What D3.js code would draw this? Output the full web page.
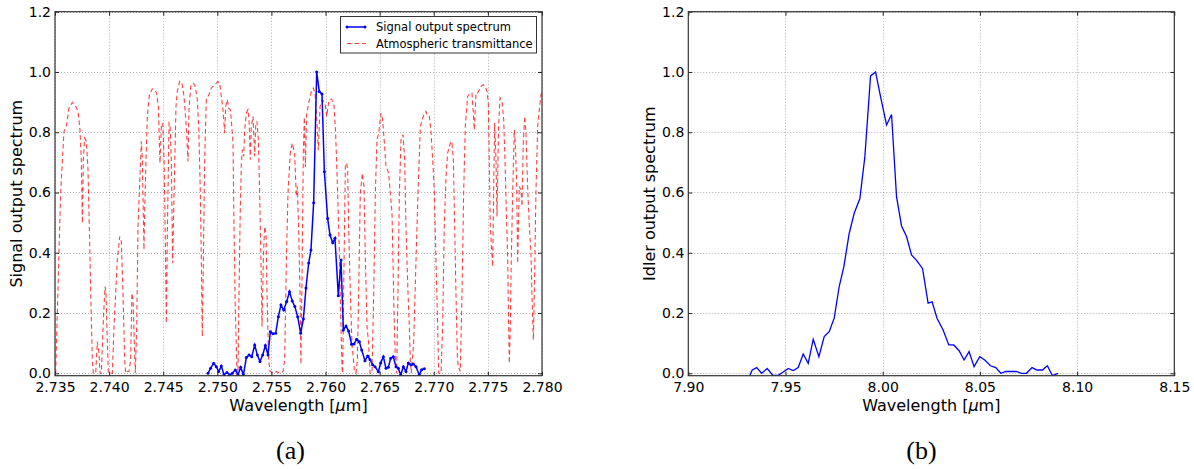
<!DOCTYPE html>
<html>
<head>
<meta charset="utf-8">
<script src="https://cdn.jsdelivr.net/npm/d3@7"></script>
<style>
  body { margin: 0; background: #fff; }
  svg { display: block; }
  text { font-family: "DejaVu Sans", sans-serif; fill: #000; }
  text.caption { font-family: "Liberation Serif", "DejaVu Serif", serif; }
</style>
</head>
<body>
<svg id="fig" width="1194" height="469"></svg>
<script>
// ---- (a) signal output spectrum, measured points ----
const signalWavelength = [
  2.74914, 2.74938, 2.74966, 2.74991, 2.75012, 2.75037, 2.75061, 2.75089, 2.75114, 2.75138,
  2.75166, 2.75191, 2.75216, 2.75241, 2.75268, 2.75293, 2.75318, 2.75345, 2.75370, 2.75394,
  2.75419, 2.75444, 2.75468, 2.75490, 2.75514, 2.75539, 2.75564, 2.75588, 2.75613, 2.75641,
  2.75667, 2.75692, 2.75716, 2.75742, 2.75770, 2.75795, 2.75819, 2.75844, 2.75865, 2.75890,
  2.75918, 2.75942, 2.75967, 2.75989, 2.76019, 2.76041, 2.76066, 2.76087, 2.76118, 2.76143,
  2.76164, 2.76189, 2.76213, 2.76241, 2.76263, 2.76287, 2.76312, 2.76334, 2.76364, 2.76389,
  2.76411, 2.76435, 2.76457, 2.76488, 2.76509, 2.76534, 2.76558, 2.76580, 2.76602, 2.76626,
  2.76651, 2.76672, 2.76694, 2.76719, 2.76743, 2.76765, 2.76789, 2.76811, 2.76836, 2.76866,
  2.76888, 2.76913
];
const signalOutput = [
  0.000, 0.017, 0.033, 0.022, 0.006, 0.024, -0.005, 0.003, -0.006, 0.000,
  0.011, -0.005, 0.020, -0.005, 0.052, 0.061, 0.055, 0.094, 0.061, 0.039,
  0.061, 0.092, 0.061, 0.138, 0.131, 0.133, 0.188, 0.227, 0.210, 0.238,
  0.271, 0.240, 0.222, 0.188, 0.133, 0.180, 0.283, 0.366, 0.409, 0.566,
  1.000, 0.935, 0.927, 0.669, 0.514, 0.459, 0.433, 0.448, 0.257, 0.376,
  0.144, 0.157, 0.140, 0.096, 0.097, 0.113, 0.105, 0.077, 0.042, 0.057,
  0.045, 0.028, 0.022, 0.005, 0.034, 0.055, 0.017, 0.020, 0.050, 0.055,
  0.022, 0.017, -0.006, 0.022, 0.006, 0.034, 0.028, 0.031, 0.022, -0.006,
  0.012, 0.015
];

// ---- (a) atmospheric transmittance ----
const atmWavelength = [
  2.73506, 2.73552, 2.73583, 2.73605, 2.73629, 2.73660, 2.73691, 2.73713, 2.73731, 2.73743,
  2.73753, 2.73762, 2.73774, 2.73790, 2.73805, 2.73817, 2.73830, 2.73845, 2.73854, 2.73876,
  2.73891, 2.73907, 2.73916, 2.73928, 2.73947, 2.73962, 2.73971, 2.73984, 2.73993, 2.74030,
  2.74045, 2.74076, 2.74098, 2.74113, 2.74128, 2.74144, 2.74153, 2.74168, 2.74184, 2.74199,
  2.74211, 2.74221, 2.74233, 2.74242, 2.74255, 2.74267, 2.74279, 2.74298, 2.74307, 2.74322,
  2.74329, 2.74341, 2.74353, 2.74372, 2.74399, 2.74421, 2.74439, 2.74455, 2.74470, 2.74483,
  2.74495, 2.74508, 2.74520, 2.74529, 2.74539, 2.74554, 2.74563, 2.74575, 2.74587, 2.74600,
  2.74618, 2.74630, 2.74652, 2.74673, 2.74692, 2.74713, 2.74729, 2.74738, 2.74754, 2.74772,
  2.74791, 2.74806, 2.74815, 2.74828, 2.74843, 2.74852, 2.74861, 2.74871, 2.74883, 2.74898,
  2.74914, 2.74929, 2.74945, 2.74960, 2.74975, 2.74991, 2.75006, 2.75022, 2.75037, 2.75052,
  2.75068, 2.75077, 2.75092, 2.75105, 2.75120, 2.75129, 2.75145, 2.75154, 2.75166, 2.75182,
  2.75191, 2.75200, 2.75212, 2.75222, 2.75231, 2.75243, 2.75253, 2.75268, 2.75283, 2.75293,
  2.75305, 2.75314, 2.75330, 2.75339, 2.75345, 2.75354, 2.75366, 2.75379, 2.75391, 2.75403,
  2.75413, 2.75425, 2.75437, 2.75450, 2.75459, 2.75474, 2.75487, 2.75514, 2.75545, 2.75576,
  2.75607, 2.75622, 2.75638, 2.75653, 2.75674, 2.75693, 2.75714, 2.75730, 2.75739, 2.75751,
  2.75764, 2.75772, 2.75782, 2.75795, 2.75804, 2.75813, 2.75825, 2.75850, 2.75872, 2.75887,
  2.75902, 2.75918, 2.75933, 2.75949, 2.75970, 2.75995, 2.76010, 2.76032, 2.76056, 2.76078,
  2.76093, 2.76109, 2.76127, 2.76140, 2.76152, 2.76158, 2.76167, 2.76183, 2.76195, 2.76204,
  2.76213, 2.76229, 2.76244, 2.76266, 2.76281, 2.76294, 2.76306, 2.76321, 2.76340, 2.76355,
  2.76368, 2.76383, 2.76398, 2.76411, 2.76429, 2.76445, 2.76460, 2.76475, 2.76491, 2.76512,
  2.76527, 2.76546, 2.76558, 2.76571, 2.76583, 2.76598, 2.76614, 2.76623, 2.76632, 2.76645,
  2.76657, 2.76669, 2.76682, 2.76697, 2.76716, 2.76731, 2.76743, 2.76762, 2.76774, 2.76783,
  2.76792, 2.76814, 2.76836, 2.76854, 2.76876, 2.76897, 2.76916, 2.76928, 2.76943, 2.76959,
  2.76974, 2.76990, 2.77005, 2.77020, 2.77036, 2.77045, 2.77067, 2.77082, 2.77097, 2.77113,
  2.77128, 2.77144, 2.77159, 2.77168, 2.77181, 2.77193, 2.77205, 2.77218, 2.77227, 2.77245,
  2.77261, 2.77276, 2.77291, 2.77313, 2.77335, 2.77353, 2.77365, 2.77375, 2.77390, 2.77405,
  2.77421, 2.77436, 2.77458, 2.77476, 2.77492, 2.77504, 2.77513, 2.77522, 2.77544, 2.77553,
  2.77562, 2.77575, 2.77584, 2.77599, 2.77612, 2.77630, 2.77646, 2.77658, 2.77670, 2.77683,
  2.77692, 2.77698, 2.77707, 2.77716, 2.77729, 2.77744, 2.77753, 2.77766, 2.77775, 2.77790,
  2.77806, 2.77815, 2.77827, 2.77840, 2.77852, 2.77867, 2.77883, 2.77898, 2.77907, 2.77920,
  2.77929, 2.77944, 2.77960, 2.77975, 2.77991, 2.78000
];
const atmTransmittance = [
  0.000, 0.598, 0.803, 0.819, 0.880, 0.899, 0.886, 0.869, 0.808, 0.709,
  0.498, 0.709, 0.781, 0.770, 0.676, 0.487, 0.266, 0.044, 0.000, 0.000,
  0.105, 0.066, 0.000, 0.000, 0.177, 0.288, 0.266, 0.100, 0.000, 0.000,
  0.155, 0.377, 0.454, 0.437, 0.266, 0.044, 0.000, 0.006, 0.006, 0.044,
  0.266, 0.244, 0.100, 0.000, 0.155, 0.487, 0.598, 0.770, 0.709, 0.410,
  0.543, 0.709, 0.853, 0.925, 0.944, 0.941, 0.930, 0.886, 0.698, 0.819,
  0.831, 0.709, 0.432, 0.166, 0.487, 0.831, 0.825, 0.709, 0.365, 0.598,
  0.886, 0.936, 0.969, 0.963, 0.919, 0.819, 0.703, 0.875, 0.952, 0.963,
  0.958, 0.930, 0.908, 0.819, 0.598, 0.377, 0.122, 0.377, 0.709, 0.908,
  0.919, 0.930, 0.947, 0.952, 0.958, 0.963, 0.968, 0.963, 0.919, 0.875,
  0.797, 0.886, 0.908, 0.880, 0.875, 0.842, 0.764, 0.487, 0.210, 0.000,
  0.006, 0.266, 0.543, 0.698, 0.742, 0.720, 0.808, 0.864, 0.875, 0.842,
  0.709, 0.819, 0.853, 0.775, 0.720, 0.819, 0.836, 0.775, 0.598, 0.377,
  0.155, 0.377, 0.487, 0.465, 0.266, 0.044, 0.006, 0.000, 0.006, 0.000,
  0.006, 0.044, 0.377, 0.598, 0.731, 0.764, 0.731, 0.587, 0.620, 0.487,
  0.266, 0.030, 0.300, 0.740, 0.850, 0.685, 0.860, 0.907, 0.940, 0.947,
  0.930, 0.852, 0.740, 0.885, 0.907, 0.896, 0.852, 0.907, 0.910, 0.890,
  0.797, 0.630, 0.410, 0.190, 0.020, 0.000, 0.266, 0.687, 0.698, 0.676,
  0.487, 0.266, 0.100, 0.011, 0.000, 0.044, 0.266, 0.598, 0.664, 0.620,
  0.377, 0.155, 0.100, 0.000, 0.000, 0.266, 0.598, 0.775, 0.797, 0.864,
  0.842, 0.753, 0.687, 0.676, 0.664, 0.598, 0.532, 0.377, 0.210, 0.044,
  0.000, 0.266, 0.598, 0.775, 0.792, 0.709, 0.487, 0.266, 0.155, 0.044,
  0.000, 0.100, 0.377, 0.598, 0.819, 0.847, 0.864, 0.869, 0.853, 0.853,
  0.803, 0.709, 0.598, 0.377, 0.155, 0.000, 0.000, 0.155, 0.487, 0.653,
  0.731, 0.753, 0.770, 0.764, 0.709, 0.487, 0.266, 0.055, 0.022, 0.006,
  0.266, 0.598, 0.819, 0.919, 0.930, 0.930, 0.864, 0.808, 0.930, 0.930,
  0.941, 0.952, 0.958, 0.952, 0.936, 0.897, 0.709, 0.487, 0.354, 0.598,
  0.831, 0.709, 0.520, 0.819, 0.914, 0.903, 0.842, 0.709, 0.543, 0.377,
  0.155, 0.033, 0.155, 0.377, 0.598, 0.808, 0.764, 0.631, 0.365, 0.620,
  0.609, 0.554, 0.764, 0.853, 0.797, 0.620, 0.487, 0.399, 0.266, 0.111,
  0.266, 0.598, 0.819, 0.875, 0.925, 0.930
];

// ---- (b) idler output spectrum ----
const idlerWavelength = [
  7.93172, 7.93290, 7.93516, 7.93773, 7.94061, 7.94338, 7.94626, 7.94883, 7.95140, 7.95397,
  7.95654, 7.95911, 7.96168, 7.96425, 7.96718, 7.96991, 7.97248, 7.97505, 7.97762, 7.98003,
  7.98276, 7.98533, 7.98826, 7.99083, 7.99375, 7.99632, 7.99889, 8.00198, 8.00455, 8.00712,
  8.00969, 8.01226, 8.01483, 8.01740, 8.02048, 8.02336, 8.02542, 8.02799, 8.03107, 8.03400,
  8.03657, 8.03929, 8.04186, 8.04443, 8.04700, 8.04993, 8.05250, 8.05543, 8.05816, 8.06073,
  8.06330, 8.06622, 8.06880, 8.07137, 8.07394, 8.07682, 8.07939, 8.08216, 8.08473, 8.08730,
  8.09018
];
const idlerOutput = [
  -0.006, 0.011, 0.019, 0.000, 0.016, -0.006, -0.007, 0.004, 0.016, 0.009,
  0.019, 0.064, 0.033, 0.113, 0.055, 0.122, 0.138, 0.183, 0.288, 0.354,
  0.464, 0.531, 0.580, 0.719, 0.987, 1.000, 0.918, 0.824, 0.859, 0.586,
  0.489, 0.454, 0.393, 0.375, 0.348, 0.233, 0.237, 0.182, 0.144, 0.094,
  0.094, 0.075, 0.044, 0.072, 0.022, 0.055, 0.044, 0.025, 0.019, 0.000,
  0.006, 0.006, 0.006, 0.000, 0.000, 0.019, 0.011, 0.011, 0.025, -0.008,
  0.000
];

// ---- axis ticks ----
const signalTicksX = [2.735, 2.740, 2.745, 2.750, 2.755, 2.760, 2.765, 2.770, 2.775, 2.780];
const idlerTicksX = [7.90, 7.95, 8.00, 8.05, 8.10, 8.15];
const spectrumTicksY = [0.0, 0.2, 0.4, 0.6, 0.8, 1.0, 1.2];

const svg = d3.select("#fig");

// Draws one axes box with grid, inward ticks on all four sides and labels.
function makeAxes(cfg) {
  const x = d3.scaleLinear().domain(cfg.xDomain).range([cfg.left, cfg.right]);
  const y = d3.scaleLinear().domain([-0.008, 1.2]).range([cfg.bottom, cfg.top]);
  const g = svg.append("g");

  const clipId = cfg.id + "-clip";
  svg.append("clipPath").attr("id", clipId).append("rect")
    .attr("x", cfg.left).attr("y", cfg.top)
    .attr("width", cfg.right - cfg.left).attr("height", cfg.bottom - cfg.top);

  // dotted grid
  const grid = g.append("g").attr("stroke", "#9a9a9a").attr("stroke-width", 0.8)
    .attr("stroke-dasharray", "1,2").attr("fill", "none");
  grid.selectAll("line.gx").data(cfg.xTicks).join("line").attr("class", "gx")
    .attr("x1", d => Math.round(x(d)) + 0.5).attr("x2", d => Math.round(x(d)) + 0.5)
    .attr("y1", cfg.top).attr("y2", cfg.bottom);
  grid.selectAll("line.gy").data(spectrumTicksY).join("line").attr("class", "gy")
    .attr("y1", d => Math.round(y(d)) + 0.5).attr("y2", d => Math.round(y(d)) + 0.5)
    .attr("x1", cfg.left).attr("x2", cfg.right);

  const plot = g.append("g").attr("clip-path", `url(#${clipId})`);

  // axes with inward ticks
  const tickLen = -4;
  const bottomAxis = d3.axisBottom(x).tickValues(cfg.xTicks).tickFormat(cfg.xFormat)
    .tickSizeInner(tickLen).tickSizeOuter(0).tickPadding(6);
  const topAxis = d3.axisTop(x).tickValues(cfg.xTicks).tickFormat("")
    .tickSizeInner(tickLen).tickSizeOuter(0);
  const leftAxis = d3.axisLeft(y).tickValues(spectrumTicksY).tickFormat(d3.format(".1f"))
    .tickSizeInner(tickLen).tickSizeOuter(0).tickPadding(4);
  const rightAxis = d3.axisRight(y).tickValues(spectrumTicksY).tickFormat("")
    .tickSizeInner(tickLen).tickSizeOuter(0);

  const axes = g.append("g");
  axes.append("g").attr("transform", `translate(0,${cfg.bottom})`).call(bottomAxis);
  axes.append("g").attr("transform", `translate(0,${cfg.top})`).call(topAxis);
  axes.append("g").attr("transform", `translate(${cfg.left},0)`).call(leftAxis);
  axes.append("g").attr("transform", `translate(${cfg.right},0)`).call(rightAxis);
  axes.selectAll(".domain").remove();
  axes.selectAll(".tick line").attr("stroke", "#222").attr("stroke-width", 1);
  axes.selectAll(".tick text").attr("font-size", 14).attr("fill", "#111");

  // frame
  g.append("rect").attr("x", cfg.left).attr("y", cfg.top)
    .attr("width", cfg.right - cfg.left).attr("height", cfg.bottom - cfg.top)
    .attr("fill", "none").attr("stroke", "#333").attr("stroke-width", 1.2);

  // x label
  const xl = g.append("text").attr("x", (cfg.left + cfg.right) / 2).attr("y", 411)
    .attr("text-anchor", "middle").attr("font-size", 16);
  xl.append("tspan").text("Wavelength [");
  xl.append("tspan").attr("font-style", "italic").text("\u03bc");
  xl.append("tspan").text("m]");

  // y label
  g.append("text")
    .attr("transform", `translate(${cfg.left - 33.5},${(cfg.top + cfg.bottom) / 2}) rotate(-90)`)
    .attr("text-anchor", "middle").attr("font-size", 16).text(cfg.yLabel);

  // panel caption
  svg.append("text").attr("class", "caption").attr("x", cfg.captionX).attr("y", 459)
    .attr("text-anchor", "middle").attr("font-size", 26).text(cfg.caption);

  return { x, y, plot };
}

// ---------- panel (a) ----------
const a = makeAxes({
  id: "pa", left: 55, right: 542, top: 11.7, bottom: 375.7,
  xDomain: [2.735, 2.780], xTicks: signalTicksX, xFormat: d3.format(".3f"),
  yLabel: "Signal output spectrum", caption: "(a)", captionX: 290.5
});

const atmPts = atmWavelength.map((w, i) => [w, atmTransmittance[i]]);
const sigPts = signalWavelength.map((w, i) => [w, signalOutput[i]]);
const lineA = d3.line().x(d => a.x(d[0])).y(d => a.y(d[1]));

a.plot.append("path").datum(atmPts).attr("d", lineA)
  .attr("fill", "none").attr("stroke", "#ff0000").attr("stroke-opacity", 0.75)
  .attr("stroke-width", 1.1).attr("stroke-dasharray", "4.5,3");

a.plot.append("path").datum(sigPts).attr("d", lineA)
  .attr("fill", "none").attr("stroke", "#0000ff").attr("stroke-width", 1.5);
a.plot.selectAll("circle.sig").data(sigPts).join("circle").attr("class", "sig")
  .attr("cx", d => a.x(d[0])).attr("cy", d => a.y(d[1])).attr("r", 1.5)
  .attr("fill", "#0000ff");

// legend
const lg = svg.append("g");
lg.append("rect").attr("x", 340.5).attr("y", 16.5).attr("width", 196).attr("height", 36.5)
  .attr("fill", "#fff").attr("stroke", "#333").attr("stroke-width", 1);
lg.append("line").attr("x1", 347).attr("x2", 365).attr("y1", 27).attr("y2", 27)
  .attr("stroke", "#0000ff").attr("stroke-width", 1.5);
lg.selectAll("circle").data([347, 365]).join("circle")
  .attr("cx", d => d).attr("cy", 27).attr("r", 1.5).attr("fill", "#0000ff");
lg.append("line").attr("x1", 347).attr("x2", 366).attr("y1", 43.5).attr("y2", 43.5)
  .attr("stroke", "#ff0000").attr("stroke-opacity", 0.75).attr("stroke-width", 1.1)
  .attr("stroke-dasharray", "4.5,3");
lg.append("text").attr("x", 376).attr("y", 31).attr("font-size", 11.5).text("Signal output spectrum");
lg.append("text").attr("x", 376).attr("y", 47.5).attr("font-size", 11.5).text("Atmospheric transmittance");

// ---------- panel (b) ----------
const b = makeAxes({
  id: "pb", left: 688.3, right: 1174.3, top: 11.7, bottom: 375.7,
  xDomain: [7.90, 8.15], xTicks: idlerTicksX, xFormat: d3.format(".2f"),
  yLabel: "Idler output spectrum", caption: "(b)", captionX: 921.5
});

const idlPts = idlerWavelength.map((w, i) => [w, idlerOutput[i]]);
b.plot.append("path").datum(idlPts)
  .attr("d", d3.line().x(d => b.x(d[0])).y(d => b.y(d[1])))
  .attr("fill", "none").attr("stroke", "#0000ff").attr("stroke-width", 1.3);
</script>
</body>
</html>
